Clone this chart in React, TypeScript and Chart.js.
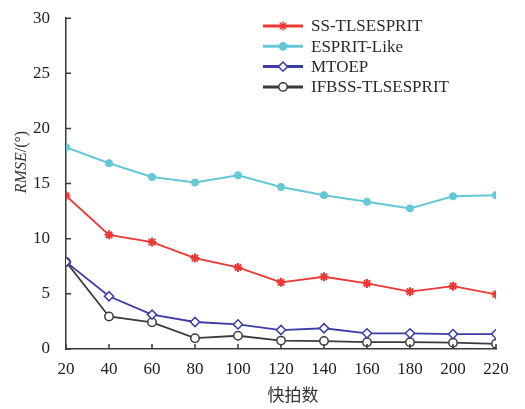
import React, { useEffect, useRef } from 'react';
import { Chart, registerables } from 'chart.js';
import { drawPoint } from 'chart.js/helpers';

Chart.register(...registerables);

const snapshots = [20, 40, 60, 80, 100, 120, 140, 160, 180, 200, 220];
const ssTlsesprit = [13.9, 10.35, 9.7, 8.25, 7.4, 6.05, 6.55, 5.95, 5.2, 5.7, 4.95];
const espritLike = [18.3, 16.85, 15.6, 15.1, 15.75, 14.7, 13.95, 13.35, 12.75, 13.85, 13.95];
const mtoep = [7.9, 4.78, 3.12, 2.45, 2.23, 1.72, 1.88, 1.42, 1.42, 1.35, 1.35];
const ifbss = [7.9, 2.95, 2.42, 0.98, 1.2, 0.76, 0.72, 0.62, 0.62, 0.57, 0.47];
const seriesNames = ['SS-TLSESPRIT', 'ESPRIT-Like', 'MTOEP', 'IFBSS-TLSESPRIT'];
const yTicks = [0, 5, 10, 15, 20, 25, 30];
const xTitle = '快拍数';
const yTitleItalic = 'RMSE';
const yTitleRest = '/(°)';

const SERIF = '"Liberation Serif", "DejaVu Serif", serif';
const AXIS_COLOR = '#3a3a3a';

const overlayPlugin = {
  id: 'overlay',
  afterDraw(chart: any) {
    const ctx = chart.ctx as CanvasRenderingContext2D;
    const xs = chart.scales.x;
    const ys = chart.scales.y;
    const area = chart.chartArea;
    ctx.save();
    // inward ticks
    ctx.strokeStyle = AXIS_COLOR;
    ctx.lineWidth = 1.5;
    ctx.beginPath();
    yTicks.forEach((v) => {
      const py = ys.getPixelForValue(v);
      ctx.moveTo(area.left, py);
      ctx.lineTo(area.left + 5, py);
    });
    snapshots.forEach((v) => {
      const px = xs.getPixelForValue(v);
      ctx.moveTo(px, area.bottom);
      ctx.lineTo(px, area.bottom - 5);
    });
    ctx.stroke();

    // y title
    ctx.fillStyle = '#333';
    ctx.translate(22, 162);
    ctx.rotate(-Math.PI / 2);
    ctx.textBaseline = 'middle';
    ctx.font = `italic 16px ${SERIF}`;
    const w1 = ctx.measureText(yTitleItalic).width;
    ctx.font = `16px ${SERIF}`;
    const w2 = ctx.measureText(yTitleRest).width;
    const start = -(w1 + w2) / 2;
    ctx.font = `italic 16px ${SERIF}`;
    ctx.textAlign = 'left';
    ctx.fillText(yTitleItalic, start, 0);
    ctx.font = `16px ${SERIF}`;
    ctx.fillText(yTitleRest, start + w1, 0);
    ctx.setTransform(1, 0, 0, 1, 0, 0);

    // x title
    ctx.font = `17px "Noto Sans CJK SC", sans-serif`;
    ctx.textAlign = 'center';
    ctx.textBaseline = 'middle';
    ctx.fillStyle = '#333';
    ctx.fillText(xTitle, 293, 395);

    // legend
    const datasets = chart.data.datasets;
    const lx = 263;
    const ly0 = 26;
    const rowH = 20.3;
    datasets.forEach((ds: any, i: number) => {
      const y = ly0 + i * rowH;
      ctx.strokeStyle = ds.borderColor;
      ctx.lineWidth = 3;
      ctx.beginPath();
      ctx.moveTo(lx, y);
      ctx.lineTo(lx + 40, y);
      ctx.stroke();
      ctx.fillStyle = ds.pointBackgroundColor;
      ctx.strokeStyle = ds.borderColor;
      ctx.lineWidth = 1.5;
      drawPoint(ctx, { pointStyle: ds.pointStyle, radius: ds.pointRadius, borderWidth: 1.5, rotation: 0 } as any, lx + 20, y);
      ctx.fillStyle = '#2a2a2a';
      ctx.font = `17px ${SERIF}`;
      ctx.textAlign = 'left';
      ctx.textBaseline = 'middle';
      ctx.fillText(seriesNames[i], lx + 48, y + 1);
    });
    ctx.restore();
  },
};

export default function App() {
  const ref = useRef<HTMLCanvasElement>(null);
  useEffect(() => {
    document.body.style.margin = '0';
    const mk = (data: number[]) => snapshots.map((x, i) => ({ x, y: data[i] }));
    const chart = new Chart(ref.current!, {
      type: 'line',
      data: {
        datasets: [
          {
            label: seriesNames[0],
            data: mk(ssTlsesprit),
            borderColor: 'rgb(238,55,55)',
            backgroundColor: 'rgb(238,55,55)',
            pointBackgroundColor: 'rgb(238,55,55)',
            pointStyle: 'star',
            pointRadius: 4.5,
            pointBorderWidth: 2,
            borderWidth: 1.8,
          },
          {
            label: seriesNames[1],
            data: mk(espritLike),
            borderColor: 'rgb(100,200,215)',
            backgroundColor: 'rgb(100,200,215)',
            pointBackgroundColor: 'rgb(100,200,215)',
            pointStyle: 'circle',
            pointRadius: 3.6,
            pointBorderWidth: 1,
            borderWidth: 2,
          },
          {
            label: seriesNames[2],
            data: mk(mtoep),
            borderColor: 'rgb(60,60,168)',
            backgroundColor: 'rgb(60,60,168)',
            pointBackgroundColor: 'rgba(255,255,255,1)',
            pointStyle: 'rectRot',
            pointRadius: 4.6,
            pointBorderWidth: 1.5,
            borderWidth: 1.8,
          },
          {
            label: seriesNames[3],
            data: mk(ifbss),
            borderColor: 'rgb(60,60,60)',
            backgroundColor: 'rgb(60,60,60)',
            pointBackgroundColor: 'rgba(255,255,255,1)',
            pointStyle: 'circle',
            pointRadius: 4.2,
            pointBorderWidth: 1.5,
            borderWidth: 1.8,
          },
        ],
      },
      options: {
        animation: false,
        responsive: false,
        maintainAspectRatio: false,
        layout: { padding: { top: 12, right: 29, left: 0, bottom: 0 } },
        plugins: { legend: { display: false }, tooltip: { enabled: false } },
        elements: { line: { tension: 0 } },
        scales: {
          x: {
            type: 'linear',
            min: 20,
            max: 220,
            afterBuildTicks: (s: any) => {
              s.ticks = snapshots.map((v) => ({ value: v }));
            },
            afterFit: (s: any) => {
              s.height = 60;
            },
            grid: { display: false },
            border: { display: true, color: AXIS_COLOR, width: 1.5 },
            ticks: {
              font: { family: SERIF, size: 17 },
              color: '#222',
              padding: 2,
              maxRotation: 0,
              autoSkip: false,
            },
          },
          y: {
            type: 'linear',
            min: 0,
            max: 30,
            afterBuildTicks: (s: any) => {
              s.ticks = yTicks.map((v) => ({ value: v }));
            },
            afterFit: (s: any) => {
              s.width = 66;
            },
            grid: { display: false },
            border: { display: true, color: AXIS_COLOR, width: 1.5 },
            ticks: {
              font: { family: SERIF, size: 17 },
              color: '#222',
              padding: 8,
            },
          },
        },
      },
      plugins: [overlayPlugin],
    } as any);
    return () => chart.destroy();
  }, []);
  return (
    <div style={{ width: 525, height: 409 }}>
      <canvas ref={ref} width={525} height={409} style={{ display: 'block', width: 525, height: 409 }} />
    </div>
  );
}
